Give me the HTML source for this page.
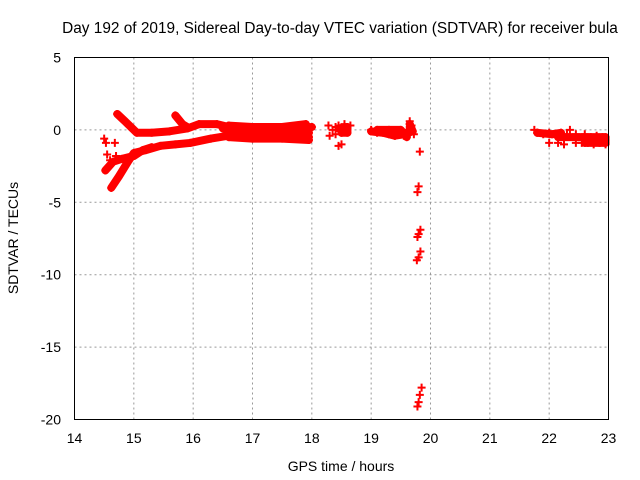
<!DOCTYPE html>
<html><head><meta charset="utf-8"><style>
body{margin:0;background:#fff}
svg{display:block;font-family:"Liberation Sans",sans-serif}
</style></head><body>
<svg id="chart" width="640" height="480">
<rect width="640" height="480" fill="#fff"/>
<text x="340" y="33" font-size="15.4" text-anchor="middle">Day 192 of 2019, Sidereal Day-to-day VTEC variation (SDTVAR) for receiver bula</text>
<g id="grid"></g>
<g id="ticks"></g>
<g id="marks"></g>
<rect x="74.5" y="57.5" width="534" height="362" fill="none" stroke="#000" stroke-width="1"/>
<text x="341" y="471" font-size="14" text-anchor="middle">GPS time / hours</text>
<text x="18" y="238" font-size="14" text-anchor="middle" transform="rotate(-90 18 238)">SDTVAR / TECUs</text>
</svg>
<script>
const xTicks=[14,15,16,17,18,19,20,21,22,23];
const yTicks=[5,0,-5,-10,-15,-20];
const trackUpper=[[14.72,1.1],[14.85,0.6],[15.0,0.0],[15.05,-0.2],[15.3,-0.2],[15.6,-0.1],[15.9,0.1],[16.1,0.4],[16.4,0.4],[16.7,0.1],[17.0,0.0],[17.5,0.0],[17.8,0.1],[18.0,0.2]];
const trackBranch=[[15.7,1.0],[15.82,0.4],[15.9,0.2]];
const trackLower=[[14.62,-4.0],[14.75,-3.2],[14.9,-2.2],[15.0,-1.6],[15.2,-1.4],[15.45,-1.1],[15.7,-1.0],[15.95,-0.9],[16.3,-0.6],[16.6,-0.4],[17.1,-0.4],[17.5,-0.5],[17.95,-0.5]];
const trackMid=[[14.52,-2.8],[14.65,-2.2],[14.8,-2.0],[15.0,-1.8],[15.15,-1.4],[15.3,-1.2]];
const trackBand=[[16.5,0.1],[16.8,-0.1],[17.2,-0.2],[17.6,-0.1],[17.95,-0.2]];
const trackBand2=[[16.6,-0.5],[17.0,-0.6],[17.5,-0.6],[17.95,-0.7]];
const trackBand3=[[16.6,0.3],[17.0,0.2],[17.5,0.2],[17.9,0.4]];
const clusterA=[[18.45,0.1],[18.6,0.2],[18.6,-0.2],[18.5,-0.2]];
const clusterB=[[19.0,-0.1],[19.2,-0.2],[19.4,-0.4],[19.55,-0.3],[19.7,-0.1],[19.65,0.4]];
const clusterB2=[[19.1,0.0],[19.3,0.0],[19.5,0.0],[19.6,-0.5]];
const clusterC=[[21.8,-0.2],[22.05,-0.3],[22.2,-0.2]];
const clusterD=[[22.15,-0.5],[22.6,-0.5],[22.95,-0.5],[22.95,-0.9],[22.6,-0.9]];
const scatter=[[14.5,-0.6],[14.53,-0.9],[14.55,-1.7],[14.68,-0.9],[14.6,-2.1],[14.7,-1.8],
[18.28,0.3],[18.3,-0.4],[18.35,0.0],[18.45,0.3],[18.5,-0.2],[18.55,0.4],[18.6,0.2],[18.65,0.3],[18.45,-1.1],[18.5,-1.0],[18.4,-0.3],[18.4,0.2],
[19.0,0.0],[19.1,-0.2],[19.2,-0.1],[19.3,-0.3],[19.4,-0.4],[19.5,-0.2],[19.6,0.0],[19.65,0.6],[19.68,0.3],[19.72,-0.3],[19.55,-0.4],
[19.82,-1.5],[19.8,-3.9],[19.78,-4.3],[19.83,-6.9],[19.8,-7.2],[19.78,-7.4],[19.83,-8.4],[19.8,-8.8],[19.77,-9.0],[19.85,-17.8],[19.82,-18.3],[19.8,-18.8],[19.78,-19.1],
[21.75,0.0],[21.8,-0.2],[21.9,-0.3],[22.0,-0.2],[22.1,-0.3],[22.0,-0.9],[22.15,-0.9],[22.25,-1.0],[22.3,-0.3],[22.35,0.0],[22.45,-0.3],[22.45,-0.9],[22.55,-0.9],[22.6,-0.3],[22.7,-0.5],[22.8,-0.4],[22.85,-0.9],[22.9,-0.5],[22.95,-0.7],[22.95,-1.0],[22.75,-1.0],[22.65,-0.9]];
const tracks=[trackUpper,trackBranch,trackLower,trackMid,trackBand,trackBand2,trackBand3,clusterA,clusterB,clusterB2,clusterC,clusterD];

const NS="http://www.w3.org/2000/svg";
const X=h=>74.5+(h-14)*(534/9);
const Y=v=>57.5+(5-v)*(362/25);
function mk(t,a,p){const e=document.createElementNS(NS,t);for(const k in a)e.setAttribute(k,a[k]);p.appendChild(e);return e;}
const grid=document.getElementById('grid'),ticks=document.getElementById('ticks'),marks=document.getElementById('marks');
xTicks.forEach(t=>{
  if(t>14&&t<23){const l=mk('line',{x1:X(t),x2:X(t),y1:57.5,y2:419.5,stroke:'#999','stroke-dasharray':'2,3'},grid);
  
  }
  const tx=mk('text',{x:X(t),y:443,'font-size':14,'text-anchor':'middle'},ticks);tx.textContent=t;
  
  
});
yTicks.forEach(t=>{
  if(t<5&&t>-20){const l=mk('line',{x1:74.5,x2:608.5,y1:Y(t),y2:Y(t),stroke:'#999','stroke-dasharray':'2,3'},grid);
  
  }
  const tx=mk('text',{x:61,y:Y(t)+5,'font-size':14,'text-anchor':'end'},ticks);tx.textContent=t;
  
  
});
tracks.forEach(tr=>{
  const pl=mk('polyline',{points:tr.map(p=>X(p[0])+','+Y(p[1])).join(' '),fill:'none',stroke:'#f00','stroke-width':8,'stroke-linejoin':'round','stroke-linecap':'round'},marks);
  
  
});
tracks.flat().concat(scatter).forEach(p=>{
  const x=X(p[0]),y=Y(p[1]);
  const g=mk('path',{d:`M${x-4},${y}h8M${x},${y-4}v8`,stroke:'#f00','stroke-width':2},marks);
  
  
});
</script>
</body></html>
